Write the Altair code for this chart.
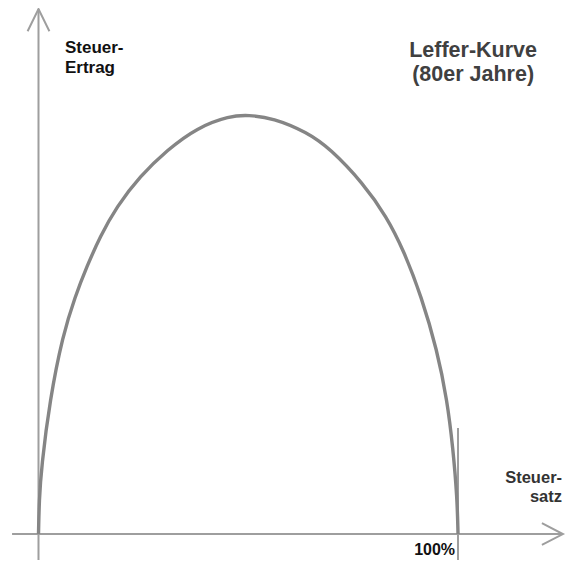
import altair as alt
import pandas as pd

# Laffer curve points (x = Steuersatz in %, y = Ertrag, peak = 100)
curve_x = [0, 0.17, 0.7, 2.7, 5.8, 8.7, 11.5, 14.7, 18.6, 24.2, 30.6, 37.8, 45.6, 50.0,
           55.9, 64.0, 69.5, 77.4, 83.0, 87.0, 91.3, 95.0, 97.4, 98.8, 99.8, 100]
curve_y = [0, 8.1, 16, 32, 47.5, 56.6, 63.8, 71.0, 78.1, 85.4, 91.6, 97.0, 99.8, 100,
           99.3, 95.9, 92.0, 83.7, 75.7, 67.8, 56.6, 43.9, 32, 20.5, 8.5, 0]

# axis lines with arrowheads (data units)
axis_paths = {
    "yaxis": ([0, 0], [-6.2, 125.3]),
    "yarrow": ([-2.6, 0, 2.6], [120.0, 125.3, 120.0]),
    "xaxis": ([-6.3, 125.0], [0, 0]),
    "xarrow": ([120.0, 125.0, 120.0], [2.6, 0, -2.6]),
    "tick100": ([100, 100], [-6.2, 25.3]),
}

XDOM = [-7.27, 125.74]
YDOM = [-6.44, 125.54]
W, H = 558, 553

xs = alt.Scale(domain=XDOM, nice=False, zero=False)
ys = alt.Scale(domain=YDOM, nice=False, zero=False)

rows = []
for name, (px, py) in axis_paths.items():
    for i, (a, b) in enumerate(zip(px, py)):
        rows.append({"path": name, "i": i, "x": a, "y": b})
axes_df = pd.DataFrame(rows)

curve_df = pd.DataFrame({"x": curve_x, "y": curve_y, "i": range(len(curve_x))})

axes = alt.Chart(axes_df).mark_line(color="#9e9e9e", strokeWidth=2).encode(
    x=alt.X("x:Q", scale=xs, axis=None),
    y=alt.Y("y:Q", scale=ys, axis=None),
    detail="path:N",
    order="i:Q",
)

curve = alt.Chart(curve_df).mark_line(color="#858585", strokeWidth=3.4,
                                      interpolate="basis").encode(
    x=alt.X("x:Q", scale=xs, axis=None),
    y=alt.Y("y:Q", scale=ys, axis=None),
    order="i:Q",
)

def label(text, x, y, align, size, color, lh):
    df = pd.DataFrame({"x": [x], "y": [y]})
    return alt.Chart(df).mark_text(
        text=text, align=align, baseline="alphabetic", fontSize=size,
        fontWeight="bold", font="Liberation Sans", color=color, lineHeight=lh,
    ).encode(
        x=alt.X("x:Q", scale=xs, axis=None),
        y=alt.Y("y:Q", scale=ys, axis=None),
    )

t1 = label(["Steuer-", "Ertrag"], 6.3, 114.9, "left", 17, "#111111", 20.5)
t2 = label(["Leffer-Kurve", "(80er Jahre)"], 103.6, 113.9, "center", 21.5, "#404040", 24)
t3 = label(["Steuer-", "satz"], 124.8, 12.2, "right", 16.5, "#333333", 19)
t4 = label("100%", 99.3, -5.0, "right", 16, "#111111", 16)

chart = alt.layer(axes, curve, t1, t2, t3, t4).properties(
    width=W, height=H, autosize=alt.AutoSizeParams(type="none"), padding=0,
).configure_view(stroke=None)

chart.save("out.html", embed_options={"renderer": "svg", "actions": False})
